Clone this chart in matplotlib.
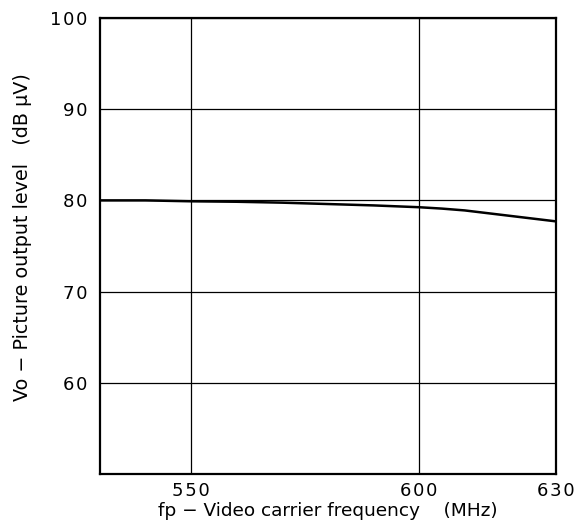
import matplotlib
matplotlib.use("Agg")
import matplotlib.pyplot as plt

# picture output level vs video carrier frequency
freq_mhz = [530, 540, 550, 560, 570, 580, 590, 600, 605, 610, 615, 620, 625, 630]
vo_dbuv  = [80.0, 80.0, 79.9, 79.85, 79.75, 79.6, 79.45, 79.25, 79.1, 78.9, 78.6, 78.3, 78.0, 77.7]

x_ticks = [550, 600, 630]
y_ticks = [60, 70, 80, 90, 100]

fig = plt.figure(figsize=(5.87, 5.29), dpi=100)
ax = fig.add_axes([0.170, 0.104, 0.777, 0.862])

ax.plot(freq_mhz, vo_dbuv, color="black", lw=1.8)

ax.set_xlim(530, 630)
ax.set_ylim(50, 100)
ax.set_xticks(x_ticks)
ax.set_yticks(y_ticks)
ax.set_xticklabels(["\u200a".join(str(v)) for v in x_ticks])
ax.set_yticklabels(["\u200a".join(str(v)) for v in y_ticks])
ax.tick_params(length=0, labelsize=13)
ax.tick_params(axis="y", pad=9)
ax.tick_params(axis="x", pad=6)
ax.grid(color="black", lw=0.9)
for s in ax.spines.values():
    s.set_linewidth(1.6)

ax.set_xlabel("fp \u2212 Video carrier frequency    (MHz)", fontsize=13.3, labelpad=1)
ax.set_ylabel("Vo \u2212 Picture output level   (dB \u03bcV)", fontsize=13.8)
ax.yaxis.set_label_coords(-0.148, 0.52)

fig.savefig("out.png", dpi=100)
